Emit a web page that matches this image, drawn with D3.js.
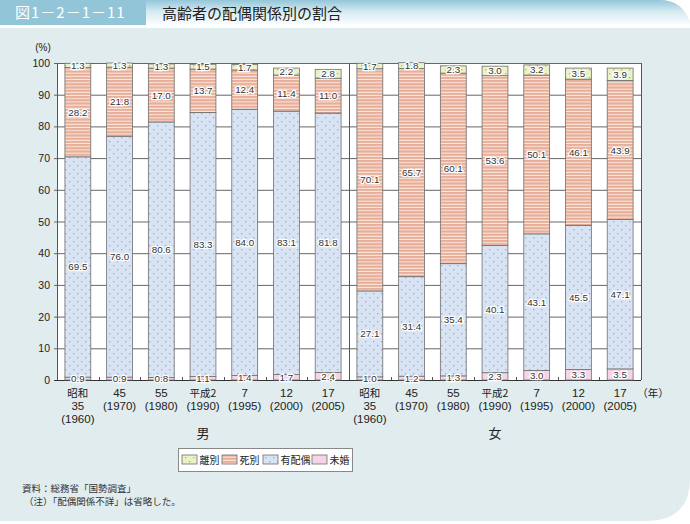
<!DOCTYPE html>
<html><head><meta charset="utf-8">
<script src="https://cdn.jsdelivr.net/npm/d3@7"></script>
<style>body{margin:0;background:#fff}svg{display:block}</style>
</head><body>
<script>
const groups = ["男", "女"];
const yearLines = [["昭和","35","（1960）"],["45","（1970）"],["55","（1980）"],["平成2","（1990）"],["7","（1995）"],["12","（2000）"],["17","（2005）"]];
const seriesNames = ["未婚", "有配偶", "死別", "離別"];
const male_mikon   = [0.9, 0.9, 0.8, 1.1, 1.4, 1.7, 2.4];
const male_haiguu  = [69.5, 76.0, 80.6, 83.3, 84.0, 83.1, 81.8];
const male_shibetsu= [28.2, 21.8, 17.0, 13.7, 12.4, 11.4, 11.0];
const male_ribetsu = [1.3, 1.3, 1.3, 1.5, 1.7, 2.2, 2.8];
const female_mikon   = [1.0, 1.2, 1.3, 2.3, 3.0, 3.3, 3.5];
const female_haiguu  = [27.1, 31.4, 35.4, 40.1, 43.1, 45.5, 47.1];
const female_shibetsu= [70.1, 65.7, 60.1, 53.6, 50.1, 46.1, 43.9];
const female_ribetsu = [1.7, 1.8, 2.3, 3.0, 3.2, 3.5, 3.9];
const yTicks = [0,10,20,30,40,50,60,70,80,90,100];
const legendOrder = ["離別", "死別", "有配偶", "未婚"];

const W = 690, H = 524;
const CJK = "'Noto Sans CJK JP',sans-serif";
const LAT = "'Liberation Sans',Arial,sans-serif";
const svg = d3.select("body").append("svg").attr("width", W).attr("height", H);
const defs = svg.append("defs");

const hg = defs.append("linearGradient").attr("id","hg").attr("x1",0).attr("y1",0).attr("x2",0).attr("y2",1);
hg.append("stop").attr("offset","0%").attr("stop-color","#94c6d9");
hg.append("stop").attr("offset","45%").attr("stop-color","#d6ebf2");
hg.append("stop").attr("offset","100%").attr("stop-color","#ffffff");

function dotPattern(id, bg, dot, size){
  const p = defs.append("pattern").attr("id", id).attr("patternUnits","userSpaceOnUse").attr("width", size).attr("height", size);
  p.append("rect").attr("width", size).attr("height", size).attr("fill", bg);
  p.append("rect").attr("x",1).attr("y",1).attr("width",1.3).attr("height",1.3).attr("fill", dot);
  p.append("rect").attr("x",1+size/2).attr("y",1+size/2).attr("width",1.3).attr("height",1.3).attr("fill", dot);
}
dotPattern("pRi", "#eaf2c6", "#9cc257", 8);
dotPattern("pHa", "#d8e3f3", "#8eaee0", 8);
const ps = defs.append("pattern").attr("id","pSh").attr("patternUnits","userSpaceOnUse").attr("width",4).attr("height",3.2);
ps.append("rect").attr("width",4).attr("height",3.2).attr("fill","#e8ae98");
ps.append("rect").attr("y",2.2).attr("width",4).attr("height",1).attr("fill","#fce9e2");
const fills = {"未婚":"#f5d5e5","有配偶":"url(#pHa)","死別":"url(#pSh)","離別":"url(#pRi)"};

svg.append("path").attr("d", `M0,28 H${W} V${H-45} Q${W},${H-3} ${W-45},${H-3} H0 Z`).attr("fill","#e1ecee");
svg.append("path").attr("d", `M0,0 H${W-30} Q${W-8},0 ${W},22 V26 H0 Z`).attr("fill","url(#hg)");
svg.append("rect").attr("x",0).attr("y",0).attr("width",146).attr("height",25).attr("fill","#93c5d9");
svg.append("text").attr("x",15).attr("y",18).attr("fill","#fff").attr("font-size",15).attr("letter-spacing",1).attr("font-family",CJK).text("図1－2－1－11");
svg.append("text").attr("x",162).attr("y",18.5).attr("fill","#222").attr("font-size",15).attr("font-family",CJK).text("高齢者の配偶関係別の割合");

const rows = [];
const cats = [];
groups.forEach((g, gi) => {
  const d = gi === 0 ? [male_mikon, male_haiguu, male_shibetsu, male_ribetsu] : [female_mikon, female_haiguu, female_shibetsu, female_ribetsu];
  yearLines.forEach((yl, i) => {
    const key = g + i;
    cats.push(key);
    const r = {key, g, i};
    seriesNames.forEach((s, si) => r[s] = d[si][i]);
    rows.push(r);
  });
});

const pLeft = 57, pRight = 641, pTop = 63, pBottom = 380;
const x = d3.scaleBand().domain(cats).range([pLeft, pRight]).paddingInner(0.38).paddingOuter(0.19);
const y = d3.scaleLinear().domain([0,100]).range([pBottom, pTop]);

const plot = svg.append("g");
plot.append("rect").attr("x",pLeft).attr("y",pTop).attr("width",pRight-pLeft).attr("height",pBottom-pTop).attr("fill","#fff");
plot.selectAll(".gl").data(yTicks).join("line")
  .attr("x1",pLeft-3).attr("x2",pRight).attr("y1",d=>y(d)+0.5).attr("y2",d=>y(d)+0.5)
  .attr("stroke", d => d===0 ? "#333" : "#666").attr("stroke-width",1);
const divX = x(cats[7]) - x.step()*x.paddingInner()/2;
[pLeft, divX, pRight].forEach(xx => plot.append("line").attr("x1",Math.round(xx)+0.5).attr("x2",Math.round(xx)+0.5).attr("y1",pTop).attr("y2",pBottom).attr("stroke","#555"));
cats.forEach((c, i) => { if (i>0 && i!==7) {
  const xx = Math.round(x(c) - x.step()*x.paddingInner()/2)+0.5;
  plot.append("line").attr("x1",xx).attr("x2",xx).attr("y1",pBottom-3).attr("y2",pBottom).attr("stroke","#555");
}});

svg.selectAll(".yl").data(yTicks).join("text")
  .attr("x",50).attr("y",d=>y(d)+4).attr("text-anchor","end").attr("font-size",10.5).attr("fill","#222")
  .attr("font-family",LAT).text(d=>d);
svg.append("text").attr("x",43).attr("y",51).attr("text-anchor","middle").attr("font-size",10).attr("fill","#222")
  .attr("font-family",LAT).text("(%)");

const stack = d3.stack().keys(seriesNames)(rows);
const bars = svg.append("g");
stack.forEach(layer => {
  const s = layer.key;
  bars.selectAll(null).data(layer).join("rect")
    .attr("x", d => x(d.data.key)).attr("width", x.bandwidth())
    .attr("y", d => y(d[1])).attr("height", d => y(d[0]) - y(d[1]))
    .attr("fill", fills[s]).attr("stroke","#6e6e6e").attr("stroke-width",0.8);
});
const labs = svg.append("g").attr("font-family",LAT).attr("font-size",9.8).attr("text-anchor","middle");
stack.forEach(layer => {
  labs.selectAll(null).data(layer).join("text")
    .attr("x", d => x(d.data.key) + x.bandwidth()/2)
    .attr("y", d => y((d[0]+d[1])/2) + 3.5)
    .attr("fill","#333").attr("stroke","#fff").attr("stroke-width",2.5).attr("paint-order","stroke")
    .text(d => d.data[layer.key].toFixed(1));
});

const xl = svg.append("g").attr("font-size",11).attr("fill","#222").attr("text-anchor","middle");
rows.forEach(r => {
  yearLines[r.i].forEach((t, li) => {
    const isCJK = /[^\x00-\x7f]/.test(t) && !t.startsWith("（");
    const txt = t.startsWith("（") ? "(" + t.slice(1, -1) + ")" : t;
    xl.append("text").attr("x", x(r.key)+x.bandwidth()/2).attr("y", 397 + li*13)
      .attr("font-family", isCJK ? CJK : LAT).attr("font-size", isCJK ? 10.5 : 11.5).text(txt);
  });
});
groups.forEach((g, gi) => {
  const c0 = x(cats[gi*7]), c1 = x(cats[gi*7+6]) + x.bandwidth();
  xl.append("text").attr("x",(c0+c1)/2).attr("y",438).attr("font-family",CJK).attr("font-size",13).text(g);
});
xl.append("text").attr("x",653).attr("y",397).attr("font-family",CJK).attr("font-size",10.5).text("（年）");

const lg = svg.append("g");
lg.append("rect").attr("x",178.5).attr("y",448.5).attr("width",174).attr("height",23).attr("fill","#fff").attr("stroke","#888");
const lx = [182, 222, 263, 312];
legendOrder.forEach((s, i) => {
  lg.append("rect").attr("x",lx[i]).attr("y",455).attr("width",15).attr("height",9).attr("fill",fills[s]).attr("stroke","#6e6e6e").attr("stroke-width",0.8);
  lg.append("text").attr("x",lx[i]+17.5).attr("y",464).attr("font-size",10).attr("fill","#222").attr("font-family",CJK).text(s);
});

const nt = svg.append("g").attr("font-family",CJK).attr("font-size",9.5).attr("fill","#333");
nt.append("text").attr("x",22).attr("y",492).text("資料：総務省「国勢調査」");
nt.append("text").attr("x",24).attr("y",505).text("（注）「配偶関係不詳」は省略した。");
</script>
</body></html>
